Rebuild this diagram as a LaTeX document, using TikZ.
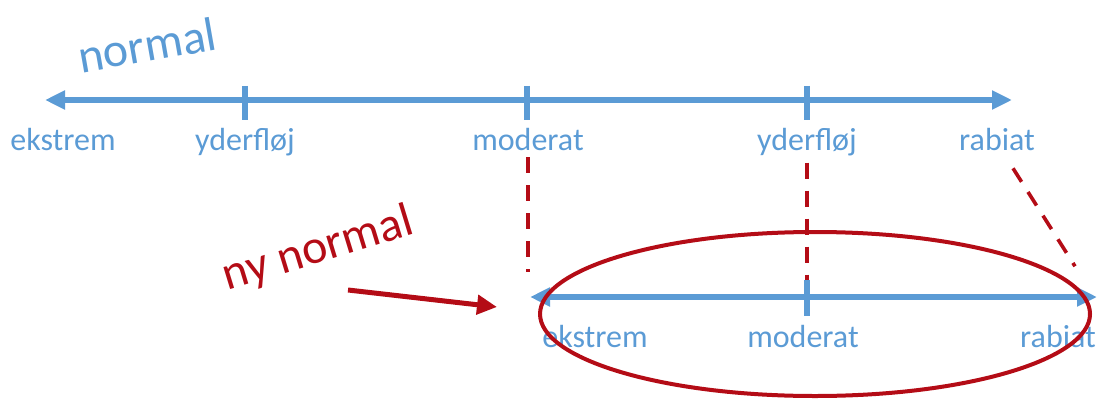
\documentclass[tikz,border=0pt]{standalone}
\usepackage{fontspec}
\setmainfont{Carlito}
\usepackage{tikz}
\usetikzlibrary{arrows.meta,calc}
\definecolor{axisblue}{RGB}{91, 155, 213}
\definecolor{newred}{RGB}{180, 12, 22}

\tikzset{
  axis/.style={line width=3pt, axisblue, {Triangle[length=10pt,width=9pt]}-{Triangle[length=10pt,width=9pt]}},
  tick/.style={line width=3pt, axisblue},
  lbl/.style={anchor=base, text=axisblue, font=\fontsize{16}{18}\selectfont},
  bigtxt/.style={font=\fontsize{24}{28}\selectfont},
  guide/.style={newred, line width=1.8pt, dash pattern=on 8pt off 6pt}
}

\begin{document}
\begin{tikzpicture}[x=0.5pt, y=-0.5pt]
\useasboundingbox (0,0) rectangle (1101,401);

% top scale
\coordinate (tL) at (45,100);
\coordinate (tR) at (1012,100);
\draw[axis] (tL) -- (tR);
\foreach \xx/\nm in {245/t1, 527/t2, 807/t3} {
  \draw[tick] (\xx,86) -- (\xx,120);
}
\node[lbl] (tekst) at (63,150) {ekstrem};
\node[lbl] (tyd1) at (245,150) {yderfløj};
\node[lbl] (tmod) at (528,150) {moderat};
\node[lbl] (tyd2) at (807,150) {yderfløj};
\node[lbl] (trab) at (997,150) {rabiat};
\node[bigtxt, text=axisblue, rotate=10] (normal) at (147,45) {normal};

% bottom scale
\coordinate (bL) at (530,297);
\coordinate (bR) at (1097,297);
\coordinate (bM) at (807,280);
\draw[axis] (bL) -- (bR);
\draw[tick] (807,280) -- (807,316);
\node[lbl] (bekst) at (595,347) {ekstrem};
\node[lbl] (bmod) at (803,347) {moderat};
\node[lbl] (brab) at (1058,347) {rabiat};

% ny normal
\node[bigtxt, text=newred, rotate=17] (nynormal) at (318,250) {ny normal};
\coordinate (pstart) at (348,290);
\coordinate (ptip) at (497,307);
\draw[newred, line width=2.5pt, -{Triangle[length=10pt,width=9.5pt]}] (pstart) -- (ptip);
\draw[newred, line width=2pt] (815,314) ellipse [x radius=275, y radius=82];

% dashed guides
\draw[guide] (tmod.south) -- ($(tmod.south |- bL)+(0,-25)$);
\draw[guide] (tyd2.south) -- (bM);
\draw[guide] ($(trab.south)+(16,11)$) -- ($(bR)!0.22!(trab.south)$);
\end{tikzpicture}
\end{document}
